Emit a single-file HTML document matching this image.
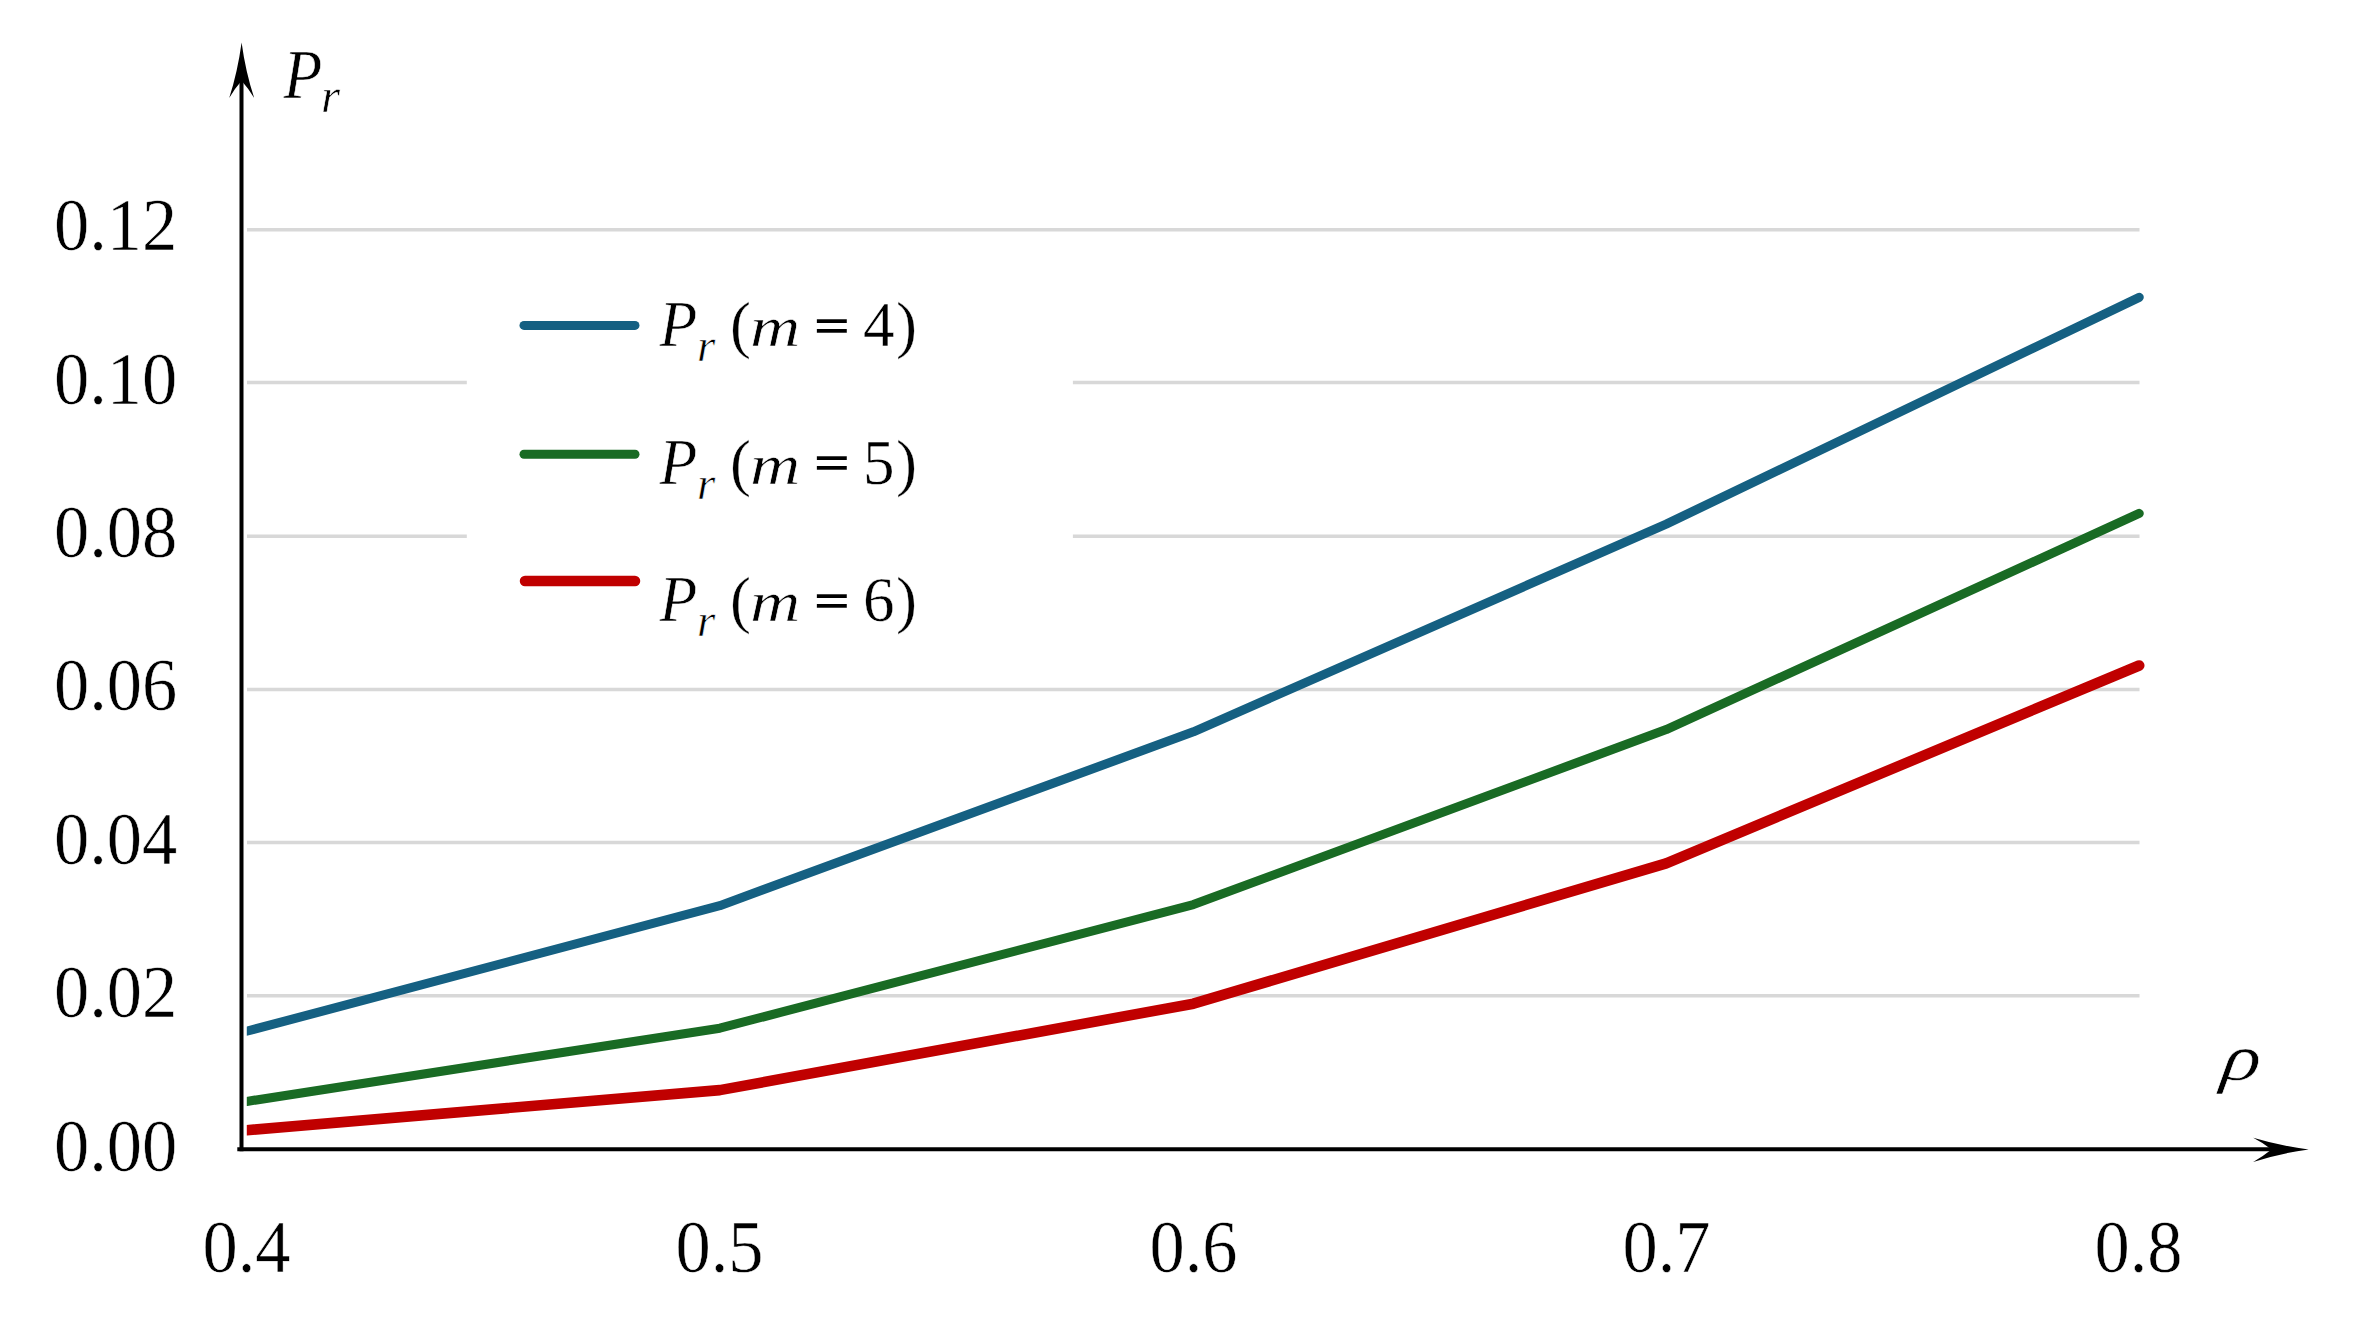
<!DOCTYPE html>
<html lang="en">
<head>
<meta charset="utf-8">
<title>Pr versus rho</title>
<style>
  html, body { margin: 0; padding: 0; background: #ffffff; }
  body { width: 2367px; height: 1343px; overflow: hidden; }
  svg { display: block; }
  .num { font-family: "Liberation Serif", "DejaVu Serif", serif; font-size: 73px; fill: #000; stroke: #fff; stroke-width: 0.5px; }
  .it  { font-family: "Liberation Serif", "DejaVu Serif", serif; font-style: italic; fill: #000; stroke: #fff; stroke-width: 0.6px; }
  .rm  { font-family: "Liberation Serif", "DejaVu Serif", serif; fill: #000; stroke: #fff; stroke-width: 0.4px; }
</style>
</head>
<body>
<svg width="2367" height="1343" viewBox="0 0 2367 1343">
  <defs>
    <clipPath id="plot"><rect x="246.8" y="150" width="1910" height="1010"/></clipPath>
  </defs>
  <rect x="0" y="0" width="2367" height="1343" fill="#ffffff"/>

  <!-- horizontal grid lines -->
  <g stroke="#d8d8d8" stroke-width="3.5" fill="none">
    <line x1="247" y1="995.8" x2="2139.5" y2="995.8"/>
    <line x1="247" y1="842.6" x2="2139.5" y2="842.6"/>
    <line x1="247" y1="689.4" x2="2139.5" y2="689.4"/>
    <line x1="247" y1="536.2" x2="2139.5" y2="536.2"/>
    <line x1="247" y1="382.6" x2="2139.5" y2="382.6"/>
    <line x1="247" y1="229.8" x2="2139.5" y2="229.8"/>
  </g>

  <!-- legend background -->
  <rect x="466.8" y="260" width="606.1" height="400" fill="#ffffff"/>

  <!-- data series -->
  <g clip-path="url(#plot)" fill="none" stroke-linecap="round" stroke-linejoin="round">
    <polyline stroke="#156082" stroke-width="9.1" points="246.8,1031.2 719.8,905.7 1193.4,731.8 1666.2,524.1 2139.2,297.3"/>
    <polyline stroke="#196b24" stroke-width="9.1" points="246.8,1101.4 719.8,1028.2 1193.4,904.6 1666.2,729.6 2139.2,513.4"/>
    <polyline stroke="#c00000" stroke-width="10.6" points="246.8,1130.2 719.8,1090.1 1193.4,1003.7 1666.2,863.3 2139.2,665.5"/>
  </g>

  <!-- axes -->
  <g stroke="#000000" stroke-width="4" fill="none">
    <line x1="241.5" y1="1151.3" x2="241.5" y2="72"/>
    <line x1="237.3" y1="1149.3" x2="2280" y2="1149.3"/>
  </g>
  <path fill="#000000" d="M241.6,42.4 Q245.6,72 254.2,97.9 Q248,88 241.6,80.8 Q235.2,88 229.2,97.9 Q237.6,72 241.6,42.4 Z"/>
  <path fill="#000000" d="M2308.7,1149.5 Q2279,1153.4 2253.2,1162 Q2264,1155.6 2271.5,1149.5 Q2264,1143.4 2253.2,1137.8 Q2279,1145.6 2308.7,1149.5 Z"/>

  <!-- legend keys -->
  <g fill="none" stroke-linecap="round">
    <line x1="524" y1="325.4" x2="635" y2="325.4" stroke="#156082" stroke-width="9"/>
    <line x1="524" y1="454.2" x2="635" y2="454.2" stroke="#196b24" stroke-width="9"/>
    <line x1="525" y1="581" x2="635" y2="581" stroke="#c00000" stroke-width="10.5"/>
  </g>

  <!-- y tick labels -->
  <g class="num" transform="scale(0.965,1)" text-anchor="end">
    <text x="183.7" y="250.3">0.12</text>
    <text x="183.7" y="403.7">0.10</text>
    <text x="183.7" y="557.1">0.08</text>
    <text x="183.7" y="710.5">0.06</text>
    <text x="183.7" y="863.9">0.04</text>
    <text x="183.7" y="1017.3">0.02</text>
    <text x="183.7" y="1170.7">0.00</text>
  </g>

  <!-- x tick labels -->
  <g class="num" transform="scale(0.965,1)" text-anchor="middle">
    <text x="255.4" y="1272.2">0.4</text>
    <text x="745.6" y="1272.2">0.5</text>
    <text x="1236.8" y="1272.2">0.6</text>
    <text x="1726.9" y="1272.2">0.7</text>
    <text x="2216.1" y="1272.2">0.8</text>
  </g>

  <!-- axis titles -->
  <text class="it" transform="translate(283.5,97.7) scale(0.92,1)" font-size="69">P</text>
  <text class="it" x="321" y="112" font-size="49">r</text>
  <text class="it" transform="translate(2220,1079.6) skewX(-8) scale(1.18,0.97)" font-size="68">ρ</text>

  <!-- legend labels -->
  <g id="leg1">
    <text class="it" transform="translate(659.5,346) scale(0.95,1)" font-size="65">P</text>
    <text class="it" x="697" y="361" font-size="47">r</text>
    <text class="rm" x="730" y="346" font-size="63">(</text>
    <text class="it" transform="translate(750,346) scale(1.2,1)" font-size="58">m</text>
    <text class="rm" transform="translate(814.8,325) scale(0.96,0.75)" y="21" font-size="63" style="stroke:#000;stroke-width:1.9px">=</text>
    <text class="rm" x="863" y="346" font-size="63">4</text>
    <text class="rm" x="896" y="346" font-size="63">)</text>
  </g>
  <g id="leg2">
    <text class="it" transform="translate(659.5,483.5) scale(0.95,1)" font-size="65">P</text>
    <text class="it" x="697" y="498.5" font-size="47">r</text>
    <text class="rm" x="730" y="483.5" font-size="63">(</text>
    <text class="it" transform="translate(750,483.5) scale(1.2,1)" font-size="58">m</text>
    <text class="rm" transform="translate(814.8,462.5) scale(0.96,0.75)" y="21" font-size="63" style="stroke:#000;stroke-width:1.9px">=</text>
    <text class="rm" x="863" y="483.5" font-size="63">5</text>
    <text class="rm" x="896" y="483.5" font-size="63">)</text>
  </g>
  <g id="leg3">
    <text class="it" transform="translate(659.5,621) scale(0.95,1)" font-size="65">P</text>
    <text class="it" x="697" y="636" font-size="47">r</text>
    <text class="rm" x="730" y="621" font-size="63">(</text>
    <text class="it" transform="translate(750,621) scale(1.2,1)" font-size="58">m</text>
    <text class="rm" transform="translate(814.8,600) scale(0.96,0.75)" y="21" font-size="63" style="stroke:#000;stroke-width:1.9px">=</text>
    <text class="rm" x="863" y="621" font-size="63">6</text>
    <text class="rm" x="896" y="621" font-size="63">)</text>
  </g>
</svg>
</body>
</html>
